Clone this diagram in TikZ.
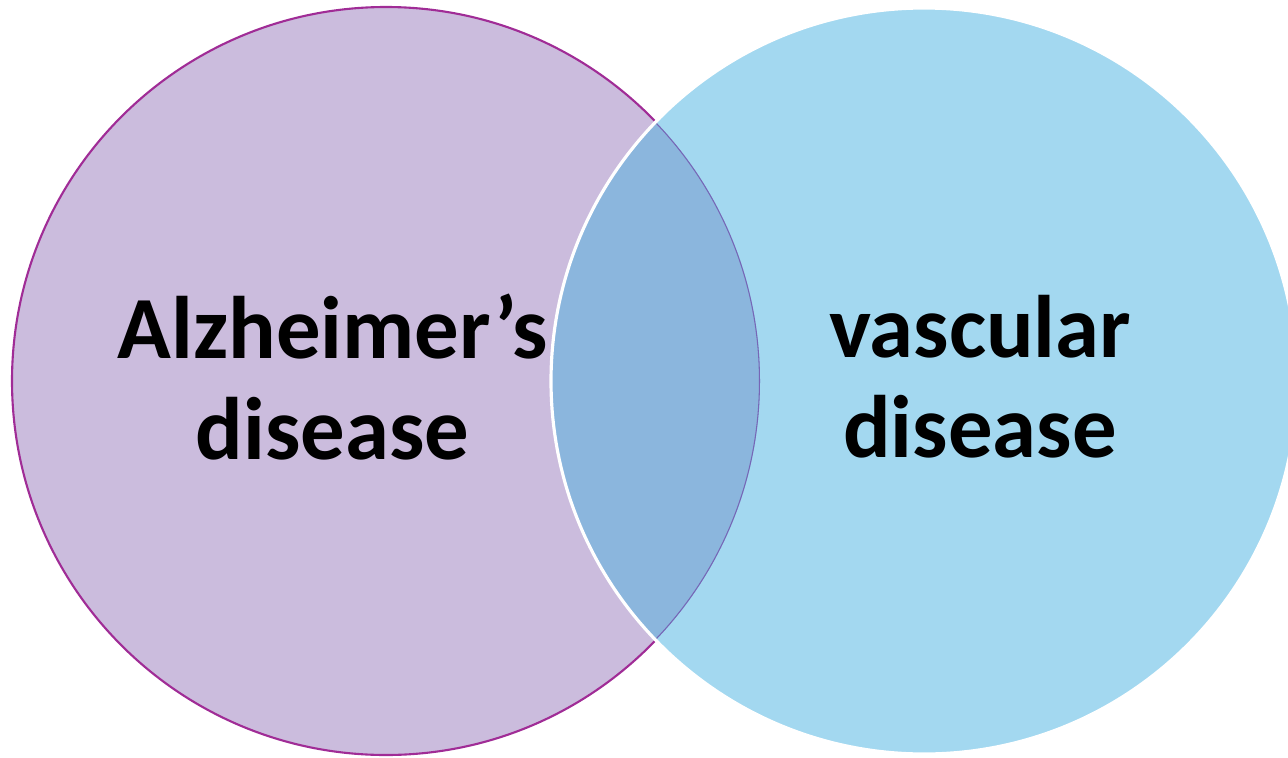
\documentclass[tikz,border=0pt]{standalone}
\usepackage{fontspec}
\setmainfont{Carlito}
\usepackage{xcolor}
\usepackage{tikz}
\usetikzlibrary{positioning, calc}
\definecolor{adpurple}{RGB}{160,44,150}
\definecolor{adfill}{RGB}{203,188,221}
\definecolor{vdfill}{RGB}{163,216,240}
\definecolor{overlapfill}{RGB}{139,182,221}
\definecolor{overlapline}{RGB}{118,102,182}
\tikzset{
  adcircle/.style={fill=adfill, draw=adpurple, line width=1.2pt},
  vdcircle/.style={fill=vdfill},
  label/.style={align=center, font=\fontsize{50.5}{57}\selectfont\bfseries,
    text=black, inner sep=0pt}
}
\begin{document}
\begin{tikzpicture}
  \useasboundingbox (0,0) rectangle (25.76,15.14);
  \coordinate (adcenter) at (7.72,7.52);
  \coordinate (vdcenter) at (18.48,7.52);

  % the two sets
  \path[adcircle] (adcenter) circle[radius=7.48];
  \path[vdcircle] (vdcenter) circle[radius=7.46];

  % overlap
  \begin{scope}
    \clip (adcenter) circle[radius=7.48];
    \fill[overlapfill] (vdcenter) circle[radius=7.46];
    \clip (vdcenter) circle[radius=7.46];
    \draw[overlapline, line width=1.2pt] (adcenter) circle[radius=7.48];
  \end{scope}
  \draw[white, line width=1.8pt] (vdcenter) circle[radius=7.46];

  \node[label] (ad) at (6.65,7.6) {Alzheimer’s\\disease};
  \node[label] (vd) at (19.6,7.6) {vascular\\disease};
\end{tikzpicture}
\end{document}
